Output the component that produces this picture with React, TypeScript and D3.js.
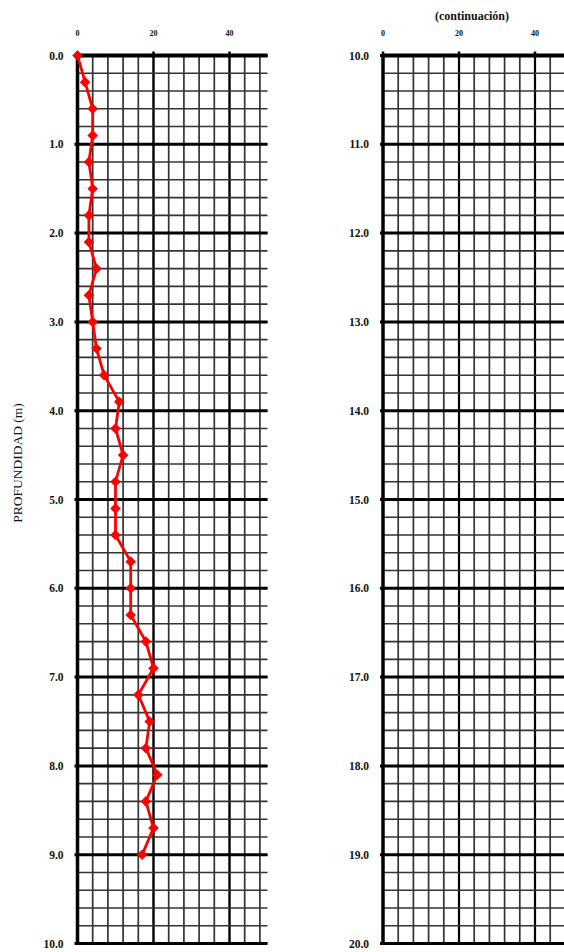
import * as d3 from "d3";
import React from "react";

// profundidad (m) y valores medidos
const depths = [0, 0.3, 0.6, 0.9, 1.2, 1.5, 1.8, 2.1, 2.4, 2.7, 3.0, 3.3, 3.6, 3.9, 4.2, 4.5, 4.8, 5.1, 5.4, 5.7, 6.0, 6.3, 6.6, 6.9, 7.2, 7.5, 7.8, 8.1, 8.4, 8.7, 9.0];
const values = [0, 2, 4, 4, 3, 4, 3, 3, 5, 3, 4, 5, 7, 11, 10, 12, 10, 10, 10, 14, 14, 14, 18, 20, 16, 19, 18, 21, 18, 20, 17];
const xTicks = [0, 20, 40];
const leftDepthDomain = [0, 10];
const rightDepthDomain = [10, 20];
const xDomain = [0, 50];
const yTitle = "PROFUNDIDAD (m)";
const contTitle = "(continuación)";

const W = 564;
const H = 952;
const top = 55.5;
const bottom = 943.5;
const font = "'Liberation Serif', 'Times New Roman', serif";

function Panel({x, y, data}) {
  const [x0, x1] = x.range();
  const [d0, d1] = y.domain();
  const vLines = d3.range(xDomain[0], xDomain[1] + 0.01, 4);
  const hLines = d3.range(d0, d1 + 0.01, 0.2).map((v) => Math.round(v * 10) / 10);
  const majors = y.ticks(10);
  const line = d3.line().x((d) => x(d.v)).y((d) => y(d.depth));
  const diamond = d3.symbol(d3.symbolDiamond2, 72)();
  return (
    <g>
      {/* minor grid */}
      {vLines.map((v) => (
        <line key={"v" + v} x1={x(v)} x2={x(v)} y1={top} y2={bottom}
          stroke="#333" strokeWidth={1.7} />
      ))}
      {xTicks.filter((t) => t > 0).map((v) => (
        <line key={"vm" + v} x1={x(v)} x2={x(v)} y1={top} y2={bottom}
          stroke="#000" strokeWidth={2.2} />
      ))}
      {hLines.map((v) => (
        <line key={"h" + v} x1={x0} x2={x1} y1={y(v)} y2={y(v)}
          stroke="#333" strokeWidth={1.6} />
      ))}
      {/* major depth lines */}
      {majors.map((v) => (
        <line key={"m" + v} x1={x0 - 3} x2={x1} y1={y(v)} y2={y(v)} stroke="#000" strokeWidth={3} />
      ))}
      {/* left border + top border */}
      <line x1={x0} x2={x0} y1={top - 1.5} y2={bottom + 1.5} stroke="#000" strokeWidth={3.5} />
      <line x1={x0} x2={x1} y1={top} y2={top} stroke="#000" strokeWidth={4} />
      {xTicks.map((t) => (
        <g key={"t" + t}>
          <line x1={x(t)} x2={x(t)} y1={top - 4} y2={top} stroke="#000" strokeWidth={2.5} />
          <text x={x(t)} y={top - 20} textAnchor="middle" fontFamily={font} fontWeight="bold" fontSize={8} fill="#111">{t}</text>
        </g>
      ))}
      {majors.map((v) => (
        <text key={"l" + v} x={x0 - 14} y={y(v) + 4} textAnchor="end" fontFamily={font} fontWeight="bold" fontSize={11.5} fill="#111">{d3.format(".1f")(v)}</text>
      ))}
      {data && (
        <g>
          <path d={line(data)} fill="none" stroke="#ff0000" strokeWidth={2.8} />
          {data.map((d, i) => (
            <path key={i} d={diamond} transform={`translate(${x(d.v)},${y(d.depth)})`} fill="#ff0000" />
          ))}
        </g>
      )}
    </g>
  );
}

export default function App() {
  const data = depths.map((depth, i) => ({depth, v: values[i]}));
  const xL = d3.scaleLinear(xDomain, [77.5, 267.5]);
  const xR = d3.scaleLinear(xDomain, [383, 573]);
  const yL = d3.scaleLinear(leftDepthDomain, [top, bottom]);
  const yR = d3.scaleLinear(rightDepthDomain, [top, bottom]);
  return (
    <svg width={W} height={H} style={{position: "absolute", left: 0, top: 0, background: "#fff"}}>
      <rect width={W} height={H} fill="#fff" />
      <Panel x={xL} y={yL} data={data} />
      <Panel x={xR} y={yR} data={null} />
      <text x={472} y={20} textAnchor="middle" fontFamily={font} fontWeight="bold" fontSize={12} fill="#111">{contTitle}</text>
      <text transform="translate(22,463) rotate(-90)" textAnchor="middle" fontFamily={font} fontSize={13.5} fill="#111">{yTitle}</text>
    </svg>
  );
}
